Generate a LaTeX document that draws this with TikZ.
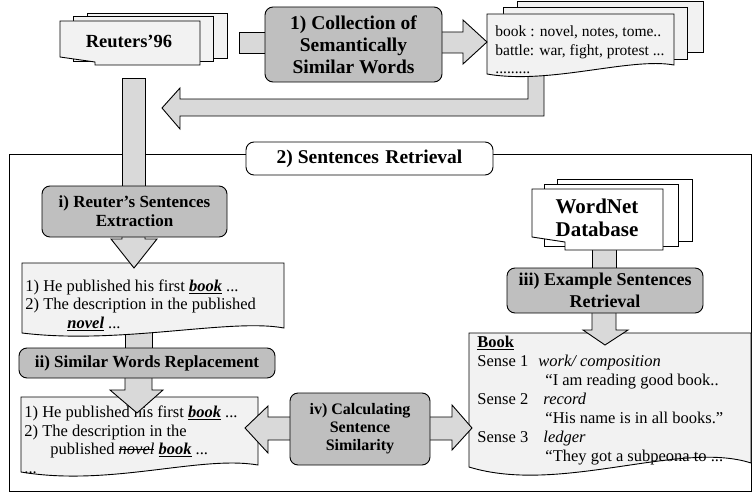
\documentclass[tikz,border=0pt]{standalone}
\usepackage{fontspec}
\setmainfont{Liberation Serif}
\usetikzlibrary{positioning,calc}
\definecolor{boxgray}{RGB}{191,191,191}
\definecolor{arrowgray}{RGB}{217,217,217}
\definecolor{pagegray}{RGB}{242,242,242}
\newcommand\struck[1]{\sbox0{#1}\rlap{\usebox0}\rule[0.3em]{\wd0}{0.6pt}}

\begin{document}
\begin{tikzpicture}[x=1pt,y=-1pt,line width=0.9pt,
  stepbox/.style={rectangle,rounded corners=8pt,draw=black,fill=boxgray,
    align=center,inner sep=0pt,font=\fontsize{17}{19}\selectfont\bfseries},
  blockarrow/.style={draw=black,fill=arrowgray,line join=miter},
  page/.style={draw=black,fill=pagegray},
  txt/.style={align=left,inner sep=0pt,font=\fontsize{16.5}{18.5}\selectfont}]
\useasboundingbox (0,0) rectangle (752,495);

% frame of step 2
\draw (9,154) rectangle (751.5,491);

% arrows lying under the pages
\draw[blockarrow] (528,70) -- (528,99) -- (180,99) -- (180,88) -- (162,108)
  -- (180,129) -- (180,116) -- (544,116) -- (544,70) -- cycle;
\draw[blockarrow] (125,325) rectangle (152,350);
\draw[blockarrow] (592,245) rectangle (616,270);

% Reuters'96 pages
\draw[page] (87,13) rectangle (227,58);
\draw[page] (73,16) rectangle (213,61);
\draw[page] (60,21) -- (200,21) -- (200,65) -- (95,65) -- (95,62) -- (60,57) -- cycle;
\node[font=\fontsize{18.5}{20}\selectfont\bfseries] (reuters) at (129,41) {Reuters’96};

% word list pages
\draw[page] (517,1) rectangle (703,52);
\draw[page] (503,7) rectangle (687,59);
\draw[page] (487,14) -- (674,14) -- (674,65) .. controls (630,57) and (550,85) .. (487,74) -- cycle;
\node[txt,anchor=west,font=\fontsize{15.5}{18.5}\selectfont] (words) at (495,50)
  {book : novel, notes, tome..\\battle: war, fight, protest ...\\.........};

% WordNet pages
\draw[fill=white] (557,179) rectangle (692,241);
\draw[fill=white] (544,184) rectangle (678,246);
\draw[fill=white] (532,189) -- (663,189) -- (663,250) -- (565,250) -- (565,242) -- (532,237) -- cycle;
\node[align=center,font=\fontsize{21}{23}\selectfont\bfseries] (wordnet) at (597,218)
  {WordNet\\Database};

% sentence documents
\draw[page] (22,263) -- (284,263) -- (284,328) .. controls (230,318) and (120,345) .. (22,333) -- cycle;
\node[txt,anchor=west] (sent1) at (25,305)
  {1) He published his first \underline{\textbf{\textit{book}}} ...\\
   2) The description in the published\\
   \hspace{42pt}\underline{\textbf{\textit{novel}}} ...};

\draw[page] (21,397) -- (258,397) -- (258,465) .. controls (200,455) and (110,487) .. (21,472) -- cycle;
\node[txt,anchor=west] (sent2) at (24,440)
  {1) He published his first \underline{\textbf{\textit{book}}} ...\\
   2) The description in the\\
   \hspace{26pt}published \struck{\textit{novel}} \underline{\textbf{\textit{book}}} ...\\
   ...};

\draw[page] (469,333) -- (751,333) -- (751,463) .. controls (680,440) and (560,495) .. (469,467) -- cycle;
\node[txt,anchor=west,font=\fontsize{16.5}{19}\selectfont] (senses) at (477,401)
  {\underline{\textbf{Book}}\\
   \makebox[61pt][l]{Sense 1}\textit{work/ composition}\\
   \hspace{68pt}“I am reading good book..\\
   \makebox[66pt][l]{Sense 2}\textit{record}\\
   \hspace{68pt}“His name is in all books.”\\
   \makebox[66pt][l]{Sense 3}\textit{ledger}\\
   \hspace{68pt}“They got a subpeona to ...};

% block arrows between the steps
\draw[blockarrow] (239,32) rectangle (266,53);
\draw[blockarrow] (441,32) -- (463,32) -- (463,20) -- (487,42) -- (463,64)
  -- (463,53) -- (441,53) -- cycle;
\draw[blockarrow] (122,78) rectangle (145,190);
\draw[blockarrow] (122,234) -- (122,239) -- (111,239) -- (134,268) -- (157,239)
  -- (145,239) -- (145,234) -- cycle;
\draw[blockarrow] (125,375) -- (125,390) -- (110,390) -- (137,413) -- (163,390)
  -- (152,390) -- (152,375) -- cycle;
\draw[blockarrow] (592,310) -- (592,330) -- (583,330) -- (605,345) -- (628,330)
  -- (616,330) -- (616,310) -- cycle;
\draw[blockarrow] (245,428) -- (268,406) -- (268,417) -- (452,417) -- (452,405)
  -- (472,428) -- (452,450) -- (452,440) -- (268,440) -- (268,453) -- cycle;

% steps
\node[stepbox,minimum width=177pt,minimum height=75pt,
      font=\fontsize{19.5}{22}\selectfont\bfseries] (collect) at (353.5,44.5)
  {1) Collection of\\Semantically\\Similar Words};
\node[stepbox,fill=white,minimum width=247pt,minimum height=33pt,
      font=\fontsize{19.5}{22}\selectfont\bfseries] (retrieval) at (369.5,158.5)
  {2) Sentences\,\,Retrieval};
\node[stepbox,minimum width=185pt,minimum height=51pt] (extract) at (134.5,211.5)
  {i) Reuter’s Sentences\\Extraction};
\node[stepbox,minimum width=256pt,minimum height=30pt] (replace) at (147,363)
  {ii) Similar Words Replacement};
\node[stepbox,minimum width=196pt,minimum height=45pt,
      font=\fontsize{18}{22}\selectfont\bfseries] (example) at (605,290.5)
  {iii) Example Sentences\\Retrieval};
\node[stepbox,minimum width=140pt,minimum height=72pt,
      font=\fontsize{16}{18}\selectfont\bfseries] (similar) at (360,429)
  {iv) Calculating\\Sentence\\Similarity};
\end{tikzpicture}
\end{document}
